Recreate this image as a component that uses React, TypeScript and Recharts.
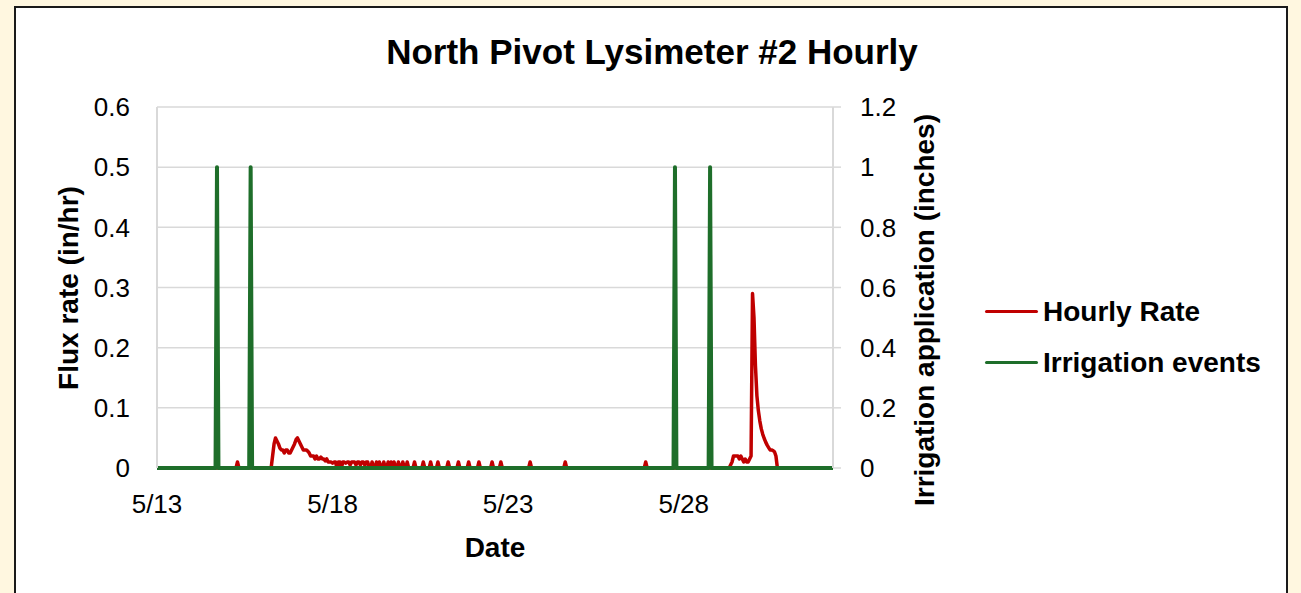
import React from 'react';
import { LineChart, Line, XAxis, YAxis, CartesianGrid } from 'recharts';

// hours counted from 5/13 00:00
const xTicks = [0, 120, 240, 360];
const xTickLabels = ['5/13', '5/18', '5/23', '5/28'];
const xMax = 462;

const fluxTicks = [0, 0.1, 0.2, 0.3, 0.4, 0.5, 0.6];
const irrigationTicks = [0, 0.2, 0.4, 0.6, 0.8, 1, 1.2];

// [hour, in/hr]
const rateEarly: [number, number][] = [
  [0, 0], [54, 0], [55, 0.01], [56, 0], [78, 0], [79, 0.02], [80, 0.04], [81, 0.05],
  [82, 0.045], [83, 0.04], [84, 0.033], [85, 0.03], [86, 0.03], [87, 0.025], [88, 0.03],
  [89, 0.03], [90, 0.025], [91, 0.025], [92, 0.03], [93, 0.035], [94, 0.04], [95, 0.047],
  [96, 0.05], [97, 0.045], [98, 0.04], [99, 0.035], [100, 0.03], [101, 0.03], [102, 0.03],
  [103, 0.028], [104, 0.025], [105, 0.02], [106, 0.02], [107, 0.02], [108, 0.015],
  [109, 0.02], [110, 0.015], [111, 0.015], [112, 0.018], [113, 0.015], [114, 0.015],
  [115, 0.012], [116, 0.015], [117, 0.01], [118, 0.01], [119, 0.01], [120, 0.008],
  [121, 0.01], [122, 0.01], [123, 0], [124, 0.01], [125, 0.01], [126, 0], [127, 0.01],
  [128, 0.01], [129, 0.008], [130, 0.01], [131, 0.01], [132, 0.005], [133, 0.01],
  [134, 0.01], [135, 0.01], [136, 0.005], [137, 0.01], [138, 0.01], [139, 0.005],
  [140, 0.01], [141, 0.01], [142, 0.005], [143, 0.01], [144, 0.01], [145, 0],
];

const rateTrickle: [number, number][] = [
  [146, 0], [147, 0.01], [148, 0], [149, 0], [150, 0.01], [151, 0], [152, 0.01], [153, 0],
  [154, 0], [155, 0.01], [156, 0], [157, 0], [158, 0.01], [159, 0], [160, 0.01], [161, 0],
  [162, 0.01], [163, 0], [164, 0], [165, 0.01], [166, 0], [167, 0], [168, 0.01], [169, 0],
  [170, 0], [171, 0.01], [172, 0], [175, 0], [176, 0.01], [177, 0], [181, 0], [182, 0.01],
  [183, 0], [186, 0], [187, 0.01], [188, 0], [191, 0], [192, 0.01], [193, 0], [198, 0],
  [199, 0.01], [200, 0], [205, 0], [206, 0.01], [207, 0], [212, 0], [213, 0.01], [214, 0],
  [219, 0], [220, 0.01], [221, 0], [228, 0], [229, 0.01], [230, 0], [234, 0], [235, 0.01],
  [236, 0], [254, 0], [255, 0.01], [256, 0], [278, 0], [279, 0.01], [280, 0], [333, 0],
  [334, 0.01], [335, 0],
];

const rateLate: [number, number][] = [
  [391, 0], [392, 0.005], [393, 0.01], [394, 0.02], [395, 0.02], [396, 0.02], [397, 0.02],
  [398, 0.015], [399, 0.02], [400, 0.015], [401, 0.01], [402, 0.015], [403, 0.01],
  [404, 0.01], [405, 0.015], [406, 0.02], [407, 0.29], [408, 0.25], [409, 0.17],
  [410, 0.12], [411, 0.095], [412, 0.078], [413, 0.065], [414, 0.056], [415, 0.049],
  [416, 0.043], [417, 0.038], [418, 0.034], [419, 0.03], [420, 0.03], [421, 0.029],
  [422, 0.027], [423, 0.02], [424, 0], [462, 0],
];

// [hour, inches]
const irrigation: [number, number][] = [
  [0, 0], [40, 0], [41, 1], [42, 0], [63, 0], [64, 1], [65, 0], [353, 0], [354, 1],
  [355, 0], [377, 0], [378, 1], [379, 0], [462, 0],
];

const rateData = [...rateEarly, ...rateTrickle, ...rateLate].map(([h, v]) => ({ h, rate: v }));
const irrigationData = irrigation.map(([h, v]) => ({ h, inches: v }));

const RED = '#C00000';
const GREEN = '#1E6E2A';
const GRID = '#D9D9D9';
const FONT = "'Liberation Sans', Arial, sans-serif";

const legendItems = [
  { label: 'Hourly Rate', color: RED },
  { label: 'Irrigation events', color: GREEN },
];

const tickStyle = { fontSize: 26, fill: '#000', fontFamily: FONT };
const textStyle: React.CSSProperties = {
  position: 'absolute',
  fontFamily: FONT,
  fontWeight: 700,
  color: '#000',
  whiteSpace: 'nowrap',
  lineHeight: 1,
};

export default function App() {
  return (
    <div style={{ position: 'absolute', left: 0, top: 0, width: 1301, height: 593, background: '#FFF7E0', overflow: 'hidden' }}>
      <div
        style={{
          position: 'absolute', left: 14, top: 6, width: 1274, height: 700,
          background: '#fff', border: '2px solid #1a1a1a', boxSizing: 'border-box',
        }}
      />
      <div style={{ ...textStyle, left: 652, top: 51, fontSize: 35, transform: 'translate(-50%, -50%)' }}>
        North Pivot Lysimeter #2 Hourly
      </div>
      <div style={{ ...textStyle, left: 69, top: 288, fontSize: 28, transform: 'translate(-50%, -50%) rotate(-90deg)' }}>
        Flux rate (in/hr)
      </div>
      <div style={{ ...textStyle, left: 925, top: 310, fontSize: 28, transform: 'translate(-50%, -50%) rotate(-90deg)' }}>
        Irrigation application (inches)
      </div>
      <div style={{ ...textStyle, left: 495, top: 548, fontSize: 28, transform: 'translate(-50%, -50%)' }}>
        Date
      </div>
      <div style={{ position: 'absolute', left: 985, top: 286 }}>
        {legendItems.map((item) => (
          <div key={item.label} style={{ display: 'flex', alignItems: 'center', height: 51 }}>
            <div style={{ width: 53, height: 3.5, background: item.color, borderRadius: 2, marginRight: 5 }} />
            <span style={{ fontFamily: FONT, fontSize: 28, fontWeight: 700, color: '#000' }}>{item.label}</span>
          </div>
        ))}
      </div>
      <div style={{ position: 'absolute', left: 0, top: 0 }}>
        <LineChart width={1301} height={593} margin={{ top: 107, right: 368, bottom: 45, left: 57 }}>
          <CartesianGrid horizontal vertical={false} stroke={GRID} strokeWidth={1.5} yAxisId="left" />
          <XAxis
            dataKey="h"
            type="number"
            domain={[0, xMax]}
            ticks={xTicks}
            tickFormatter={(v: number) => xTickLabels[xTicks.indexOf(v)]}
            tick={tickStyle}
            tickLine={false}
            tickSize={0}
            tickMargin={27}
            axisLine={false}
            height={80}
          />
          <YAxis
            yAxisId="left"
            domain={[0, 0.6]}
            ticks={fluxTicks}
            tick={tickStyle}
            tickLine={false}
            tickSize={0}
            tickMargin={27}
            axisLine={{ stroke: GRID, strokeWidth: 2 }}
            width={100}
          />
          <YAxis
            yAxisId="right"
            orientation="right"
            domain={[0, 1.2]}
            ticks={irrigationTicks}
            tick={tickStyle}
            tickLine={{ stroke: GRID, strokeWidth: 1.5 }}
            tickSize={8}
            tickMargin={19}
            axisLine={{ stroke: GRID, strokeWidth: 2 }}
            width={100}
          />
          <Line
            yAxisId="left"
            data={rateData}
            dataKey="rate"
            name="Hourly Rate"
            type="linear"
            stroke={RED}
            strokeWidth={3.5}
            strokeLinejoin="round"
            dot={false}
            activeDot={false}
            isAnimationActive={false}
          />
          <Line
            yAxisId="right"
            data={irrigationData}
            dataKey="inches"
            name="Irrigation events"
            type="linear"
            stroke={GREEN}
            strokeWidth={4}
            strokeLinejoin="round"
            dot={false}
            activeDot={false}
            isAnimationActive={false}
          />
        </LineChart>
      </div>
    </div>
  );
}
